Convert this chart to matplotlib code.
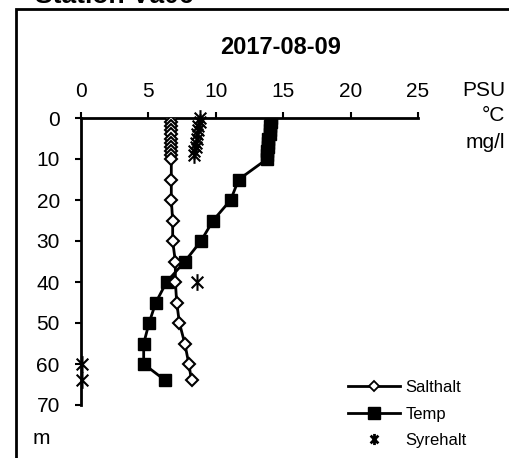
import matplotlib
matplotlib.use("Agg")
import matplotlib.pyplot as plt
from matplotlib.lines import Line2D
from matplotlib.patches import Rectangle
from matplotlib.path import Path

plt.rcParams['font.family'] = ['Liberation Sans', 'DejaVu Sans']

sal_depth = [0, 1, 2, 3, 4, 5, 6, 7, 8, 9, 10, 15, 20, 25, 30, 35, 40, 45, 50, 55, 60, 64]
sal_vals = [6.7, 6.7, 6.7, 6.7, 6.7, 6.7, 6.7, 6.7, 6.7, 6.7, 6.7,
            6.7, 6.7, 6.8, 6.8, 7.0, 7.0, 7.1, 7.3, 7.7, 8.0, 8.2]
temp_depth = [0, 1, 2, 3, 4, 5, 6, 7, 8, 9, 10, 15, 20, 25, 30, 35, 40, 45, 50, 55, 60, 64]
temp_vals = [14.1, 14.1, 14.0, 14.0, 14.0, 13.9, 13.9, 13.9, 13.8, 13.8, 13.8,
             11.7, 11.1, 9.8, 8.9, 7.7, 6.35, 5.55, 5.05, 4.65, 4.65, 6.25]
oxy_depth = [0, 1, 2, 3, 4, 5, 6, 7, 8, 9, 40, 60, 64]
oxy_vals = [8.8, 8.8, 8.7, 8.7, 8.6, 8.6, 8.5, 8.5, 8.4, 8.4, 8.6, 0.05, 0.1]
x_ticks = [0, 5, 10, 15, 20, 25]
y_ticks = [0, 10, 20, 30, 40, 50, 60, 70]

# asterisk marker: X plus vertical bar
star = Path([(-0.7, -0.7), (0.7, 0.7), (-0.7, 0.7), (0.7, -0.7), (0, -1), (0, 1)],
            [Path.MOVETO, Path.LINETO, Path.MOVETO, Path.LINETO, Path.MOVETO, Path.LINETO])

W, H = 509, 458
fig = plt.figure(figsize=(W / 100, H / 100), dpi=100)
ax = fig.add_axes([81 / W, 1 - 405 / H, (418 - 81) / W, (405 - 118) / H])

ax.plot(temp_vals, temp_depth, color='black', lw=2, marker='s', ms=8.5,
        mfc='black', mec='black', zorder=3)
ax.plot(sal_vals, sal_depth, color='black', lw=2, marker='D', ms=6,
        mfc='white', mec='black', mew=1.5, zorder=4)
ax.plot(oxy_vals, oxy_depth, ls='none', marker=star, ms=12, mfc='none',
        mec='black', mew=1.5, zorder=5, clip_on=False)

ax.set_xlim(0, 25)
ax.set_ylim(70, 0)
ax.set_xticks(x_ticks)
ax.set_yticks(y_ticks)
ax.xaxis.tick_top()
ax.tick_params(axis='both', direction='out', length=4.3, width=1.5,
               labelsize=15, colors='black')
ax.tick_params(axis='x', pad=8)
ax.tick_params(axis='y', pad=11)
for s in ['right', 'bottom']:
    ax.spines[s].set_visible(False)
for s in ['left', 'top']:
    ax.spines[s].set_linewidth(2)
ax.patch.set_alpha(0)

# frame
fig.patches.append(Rectangle((16 / W, -0.1), 1.2, 1 - 9 / H + 0.1,
                             transform=fig.transFigure, fill=False,
                             lw=2, ec='black'))

fig.text(35 / W, 1 - 3 / H, 'Station Vå06', fontsize=19, fontweight='bold',
         ha='left', va='baseline')
fig.text(281 / W, 1 - 48 / H, '2017-08-09', fontsize=17, fontweight='bold',
         ha='center', va='center')
fig.text(505 / W, 1 - 90 / H, 'PSU', fontsize=15, ha='right', va='center')
fig.text(505 / W, 1 - 116 / H, '°C', fontsize=15, ha='right', va='center')
fig.text(505 / W, 1 - 142 / H, 'mg/l', fontsize=15, ha='right', va='center')
fig.text(33 / W, 1 - 438 / H, 'm', fontsize=15, ha='left', va='center')

handles = [
    Line2D([], [], color='black', lw=2, marker='D', ms=5, mfc='white', mec='black', mew=1.3),
    Line2D([], [], color='black', lw=2, marker='s', ms=8, mfc='black'),
    Line2D([], [], ls='none', marker=star, ms=8, mfc='none', mec='black', mew=2),
]
fig.legend(handles, ['Salthalt', 'Temp', 'Syrehalt'], loc='center left',
           bbox_to_anchor=(348 / W, 1 - 414 / H), frameon=False, fontsize=12,
           handlelength=3.1, handletextpad=0.35, labelspacing=0.7,
           borderpad=0, borderaxespad=0)

fig.savefig('out.png', dpi=100)
